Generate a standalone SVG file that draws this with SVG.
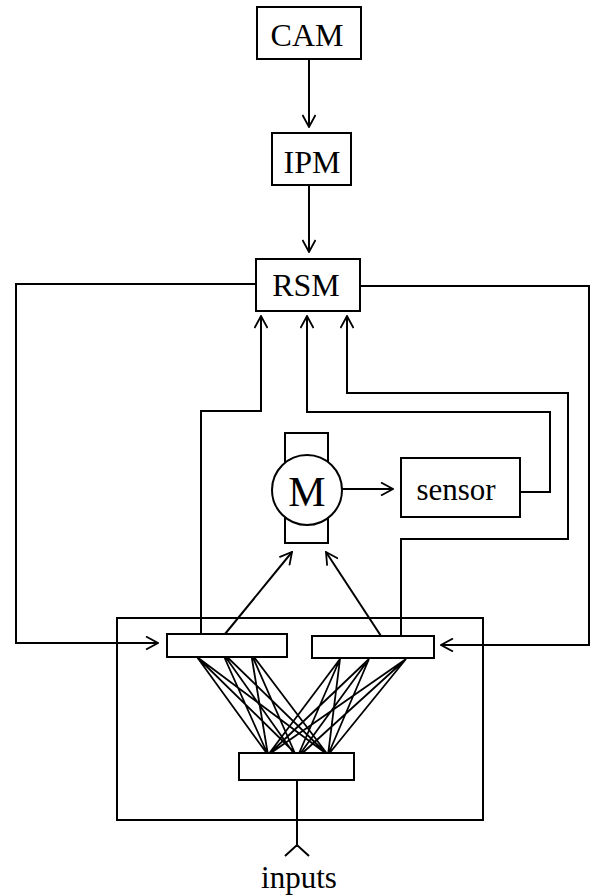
<svg xmlns="http://www.w3.org/2000/svg" width="591" height="896" viewBox="0 0 591 896">
<style>
.box{fill:#fff;stroke:#000;stroke-width:2}
.ln{fill:none;stroke:#000;stroke-width:2}
.fan{fill:none;stroke:#000;stroke-width:1.8}
.t{font-family:"Liberation Serif","Times New Roman",serif;font-size:31px;fill:#000;text-anchor:middle}
.big{font-size:32px}
</style>
<defs>
<marker id="arr" viewBox="0 0 14 14" refX="13" refY="7" markerWidth="14" markerHeight="14" markerUnits="userSpaceOnUse" orient="auto">
<path d="M1,0.5 L13,7 L1,13.5" fill="none" stroke="#000" stroke-width="1.8"/>
</marker>
</defs>
<rect width="591" height="896" fill="#fff"/>
<g id="connectors">
<path class="ln" d="M309,59 V127" marker-end="url(#arr)"/>
<path class="ln" d="M309,185 V252" marker-end="url(#arr)"/>
<path class="ln" d="M256,284 H16 V643 H158" marker-end="url(#arr)"/>
<path class="ln" d="M360,286 H589 V645 H441" marker-end="url(#arr)"/>
<path class="ln" d="M201,634 V411 H261 V316" marker-end="url(#arr)"/>
<path class="ln" d="M520,492 H550 V412 H307 V316" marker-end="url(#arr)"/>
<path class="ln" d="M401,636 V539 H568 V393 H347 V316" marker-end="url(#arr)"/>
<path class="ln" d="M342,489 H393" marker-end="url(#arr)"/>
<path class="ln" d="M225,634 L292,552" marker-end="url(#arr)"/>
<path class="ln" d="M381,636 L326,552" marker-end="url(#arr)"/>
<path class="ln" d="M297,780 V847 M285,856 L297,845 L309,856"/>
<g id="fan">
<path class="fan" d="M197,657 L268,755 M197,657 L297,755 M197,657 L328,755
M222,652 L268,755 M222,652 L297,758 M222,652 L328,755
M251,653 L268,755 M251,653 L297,758 M251,653 L328,755
M340,659 L268,755 M340,659 L297,758 M340,659 L328,755
M369,659 L268,755 M369,659 L297,758 M369,659 L328,755
M406,659 L268,755 M406,659 L297,758 M406,659 L328,755"/>
</g>
</g>
<g id="CAM"><rect class="box" x="257" y="7" width="104" height="52"/><text class="t big" x="307" y="46">CAM</text></g>
<g id="IPM"><rect class="box" x="272" y="133" width="79" height="52"/><text class="t big" x="312" y="173">IPM</text></g>
<g id="RSM"><rect class="box" x="256" y="259" width="104" height="52"/><text class="t big" x="306" y="296">RSM</text></g>
<g id="motor">
<rect class="box" x="285" y="433" width="43" height="110"/>
<circle class="box" cx="307" cy="490" r="35"/>
<text class="t" x="307" y="506" style="font-size:42px">M</text>
</g>
<g id="sensor"><rect class="box" x="401" y="458" width="119" height="59"/><text class="t" x="456" y="500">sensor</text></g>
<g id="module">
<rect class="ln" x="117" y="618" width="366" height="202"/>
</g>
<g id="left-bar"><rect class="box" x="167" y="634" width="120" height="23"/></g>
<g id="right-bar"><rect class="box" x="312" y="636" width="122" height="22"/></g>
<g id="bottom-bar"><rect class="box" x="239" y="753" width="115" height="27"/></g>
<g id="inputs"><text class="t" x="299" y="888">inputs</text></g>
</svg>
